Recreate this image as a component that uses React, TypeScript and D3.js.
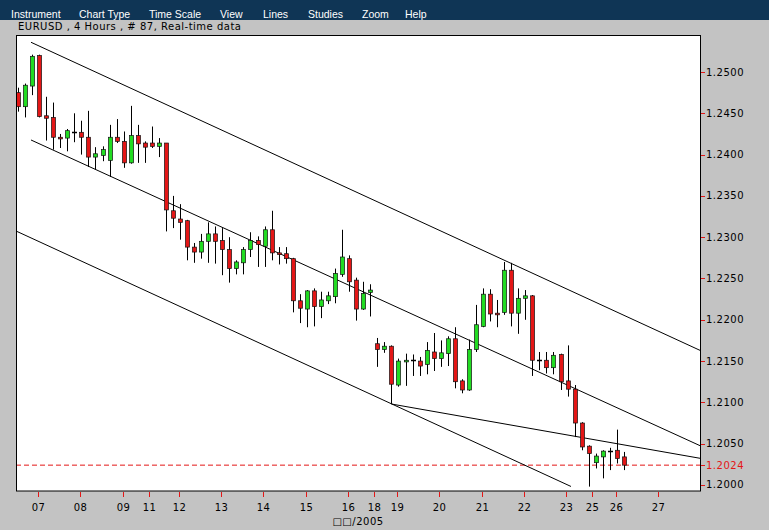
import React from "react";
import * as d3 from "d3";

// ---------- data ----------
const opens = [1.2475,1.2458,1.2483,1.2520,1.2447,1.2445,1.2421,1.2420,1.2427,1.2427,1.2421,1.2397,1.2399,1.2393,1.2421,1.2416,1.2390,1.2423,1.2414,1.2414,1.2410,1.2414,1.2332,1.2322,1.2320,1.2288,1.2282,1.2295,1.2304,1.2296,1.2285,1.2262,1.2269,1.2285,1.2296,1.2289,1.2309,1.2281,1.2280,1.2274,1.2223,1.2213,1.2235,1.2216,1.2223,1.2228,1.2255,1.2274,1.2248,1.2213,1.2233,1.2171,1.2164,1.2168,1.2121,1.2149,1.2151,1.2150,1.2146,1.2161,1.2153,1.2159,1.2177,1.2126,1.2115,1.2164,1.2192,1.2231,1.2208,1.2209,1.2260,1.2208,1.2226,1.2229,1.2151,1.2151,1.2142,1.2158,1.2126,1.2116,1.2075,1.2047,1.2027,1.2034,1.2041,1.2042,1.2034];
const highs = [1.2481,1.2486,1.2521,1.2521,1.2470,1.2463,1.2425,1.2431,1.2450,1.2441,1.2453,1.2409,1.2410,1.2436,1.2443,1.2428,1.2459,1.2436,1.2416,1.2434,1.2420,1.2414,1.2350,1.2340,1.2321,1.2293,1.2304,1.2318,1.2313,1.2311,1.2300,1.2272,1.2288,1.2306,1.2301,1.2313,1.2332,1.2288,1.2288,1.2275,1.2231,1.2236,1.2238,1.2234,1.2234,1.2262,1.2309,1.2278,1.2251,1.2246,1.2243,1.2178,1.2173,1.2169,1.2153,1.2159,1.2158,1.2155,1.2173,1.2184,1.2175,1.2180,1.2191,1.2128,1.2176,1.2218,1.2238,1.2237,1.2224,1.2270,1.2269,1.2238,1.2236,1.2230,1.2161,1.2161,1.2161,1.2159,1.2169,1.2121,1.2076,1.2048,1.2038,1.2042,1.2045,1.2067,1.2040];
const lows = [1.2452,1.2445,1.2472,1.2445,1.2417,1.2406,1.2408,1.2404,1.2415,1.2400,1.2385,1.2382,1.2392,1.2373,1.2414,1.2384,1.2389,1.2390,1.2390,1.2408,1.2397,1.2307,1.2311,1.2297,1.2272,1.2269,1.2274,1.2269,1.2268,1.2254,1.2245,1.2255,1.2255,1.2276,1.2264,1.2264,1.2272,1.2267,1.2268,1.2209,1.2196,1.2191,1.2192,1.2202,1.2219,1.2220,1.2252,1.2234,1.2199,1.2212,1.2204,1.2143,1.2160,1.2098,1.2119,1.2120,1.2132,1.2132,1.2134,1.2138,1.2143,1.2144,1.2117,1.2111,1.2114,1.2161,1.2191,1.2198,1.2191,1.2206,1.2192,1.2183,1.2200,1.2132,1.2139,1.2135,1.2134,1.2115,1.2107,1.2058,1.2042,1.1998,1.2020,1.2008,1.2018,1.2026,1.2018];
const closes = [1.2458,1.2484,1.2519,1.2446,1.2444,1.2421,1.2419,1.2429,1.2426,1.2421,1.2397,1.2401,1.2406,1.2421,1.2416,1.2390,1.2423,1.2413,1.2409,1.2410,1.2414,1.2333,1.2323,1.2318,1.2288,1.2282,1.2295,1.2304,1.2295,1.2285,1.2262,1.2270,1.2285,1.2296,1.2291,1.2309,1.2281,1.2279,1.2274,1.2223,1.2214,1.2235,1.2216,1.2224,1.2229,1.2256,1.2276,1.2246,1.2213,1.2232,1.2236,1.2164,1.2168,1.2122,1.2150,1.2151,1.2150,1.2144,1.2163,1.2153,1.2160,1.2177,1.2125,1.2115,1.2164,1.2194,1.2231,1.2207,1.2206,1.2260,1.2208,1.2226,1.2229,1.2151,1.2150,1.2142,1.2157,1.2125,1.2116,1.2075,1.2046,1.2038,1.2035,1.2041,1.2040,1.2032,1.2024];

// x-axis day labels and their position (in candle slots)
const dayLabels = ["07","08","09","11","12","13","14","15","16","18","19","20","21","22","23","25","26","27"];
const daySlots = [2.85,8.81,14.9,18.6,22.85,28.81,34.77,40.88,46.83,50.52,53.79,59.75,65.85,71.81,77.77,81.46,84.86,90.83];
const monthLabel = "\u25A1\u25A1/2005";

// right axis ticks
const priceTicks = [1.2000,1.2050,1.2100,1.2150,1.2200,1.2250,1.2300,1.2350,1.2400,1.2450,1.2500];
const lastPrice = 1.2024;

// trend lines [slot, price]
const channelUpper: [number, number][] = [[1.85, 1.2536], [96.79, 1.2163]];
const channelMiddle: [number, number][] = [[1.85, 1.24177], [96.79, 1.20476]];
const channelLower: [number, number][] = [[-0.277, 1.23075], [78.48, 1.19982]];
const supportLine: [number, number][] = [[53, 1.2098], [96.79, 1.20323]];

const menuItems = ["Instrument","Chart Type","Time Scale","View","Lines","Studies","Zoom","Help"];
const title = "EURUSD , 4 Hours , # 87, Real-time data";

// ---------- layout ----------
const W = 769, H = 530;
const plot = { left: 16, top: 35.5, right: 700, bottom: 491 };
const menuX = [11, 79, 149, 220, 263, 308, 362, 405];

export default function App() {
  const x = d3.scaleLinear().domain([-0.277, 96.79]).range([plot.left, plot.right]);
  const y = d3.scaleLinear().domain([1.19927, 1.25436]).range([491, 36]);
  const line = d3.line<[number, number]>().x(d => x(d[0])).y(d => y(d[1]));

  const red = "#e41616";
  const green = "#22dc22";
  const axisFont = "'DejaVu Sans', Verdana, sans-serif";

  return (
    <div style={{ position: "absolute", left: 0, top: 0 }}>
      <svg width={W} height={H} style={{ display: "block" }}>
        <rect x={0} y={0} width={W} height={H} fill="#c3c3c3" />
        <rect x={0} y={0} width={W} height={20} fill="#0f3555" />
        {menuItems.map((m, i) => (
          <text key={m} x={menuX[i]} y={18} fill="#ffffff" fontFamily="'Liberation Sans', Arial, sans-serif" fontSize={10.5}>{m}</text>
        ))}
        <text x={18} y={29.5} fill="#000" fontFamily={axisFont} fontSize={10} letterSpacing={0.5}>{title}</text>

        <rect x={plot.left + 0.5} y={plot.top} width={plot.right - plot.left} height={plot.bottom - plot.top} fill="#ffffff" stroke="#000" strokeWidth={1} />

        <defs>
          <clipPath id="plotclip">
            <rect x={plot.left + 1} y={plot.top + 0.5} width={plot.right - plot.left - 1} height={plot.bottom - plot.top - 1} />
          </clipPath>
        </defs>

        <g clipPath="url(#plotclip)">
          <line x1={plot.left} x2={plot.right} y1={y(lastPrice)} y2={y(lastPrice)} stroke={red} strokeWidth={1} strokeDasharray="5,3" />
          {[channelUpper, channelMiddle, channelLower, supportLine].map((l, i) => (
            <path key={i} d={line(l) || ""} fill="none" stroke="#000" strokeWidth={1} />
          ))}
          {opens.map((o, i) => {
            const c = closes[i];
            const cx = Math.round(x(i)) + 0.5;
            const up = c > o;
            const top = y(Math.max(o, c));
            const bot = y(Math.min(o, c));
            const h = bot - top;
            return (
              <g key={i}>
                <line x1={cx} x2={cx} y1={y(highs[i])} y2={y(lows[i])} stroke="#000" strokeWidth={1} />
                {h < 1.6 ? (
                  <line x1={cx - 2.5} x2={cx + 2.5} y1={Math.round(top) + 0.5} y2={Math.round(top) + 0.5} stroke="#000" strokeWidth={1.5} />
                ) : (
                  <rect x={cx - 2} y={top} width={4} height={h} fill={up ? green : red} stroke="#111" strokeWidth={0.7} />
                )}
              </g>
            );
          })}
        </g>

        {priceTicks.map(p => (
          <g key={p}>
            <line x1={plot.right + 1} x2={plot.right + 5} y1={Math.round(y(p)) + 0.5} y2={Math.round(y(p)) + 0.5} stroke={red} />
            <text x={plot.right + 6} y={y(p) + 3.5} fontFamily={axisFont} fontSize={10} letterSpacing={0.5} fill="#000">{p.toFixed(4)}</text>
          </g>
        ))}
        <line x1={plot.right + 1} x2={plot.right + 5} y1={Math.round(y(lastPrice)) + 0.5} y2={Math.round(y(lastPrice)) + 0.5} stroke={red} />
        <text x={plot.right + 6} y={y(lastPrice) + 3.5} fontFamily={axisFont} fontSize={10} letterSpacing={0.5} fill={red}>{lastPrice.toFixed(4)}</text>

        {dayLabels.map((d, i) => {
          const xx = Math.round(x(daySlots[i])) + 0.5;
          return (
            <g key={d}>
              <line x1={xx} x2={xx} y1={plot.bottom + 1} y2={plot.bottom + 6} stroke={red} />
              <text x={xx} y={511} textAnchor="middle" fontFamily={axisFont} fontSize={10} letterSpacing={0.5} fill="#000">{d}</text>
            </g>
          );
        })}
        <text x={358} y={524.5} textAnchor="middle" fontFamily={axisFont} fontSize={10} letterSpacing={0.5} fill="#000">{monthLabel}</text>
      </svg>
    </div>
  );
}
